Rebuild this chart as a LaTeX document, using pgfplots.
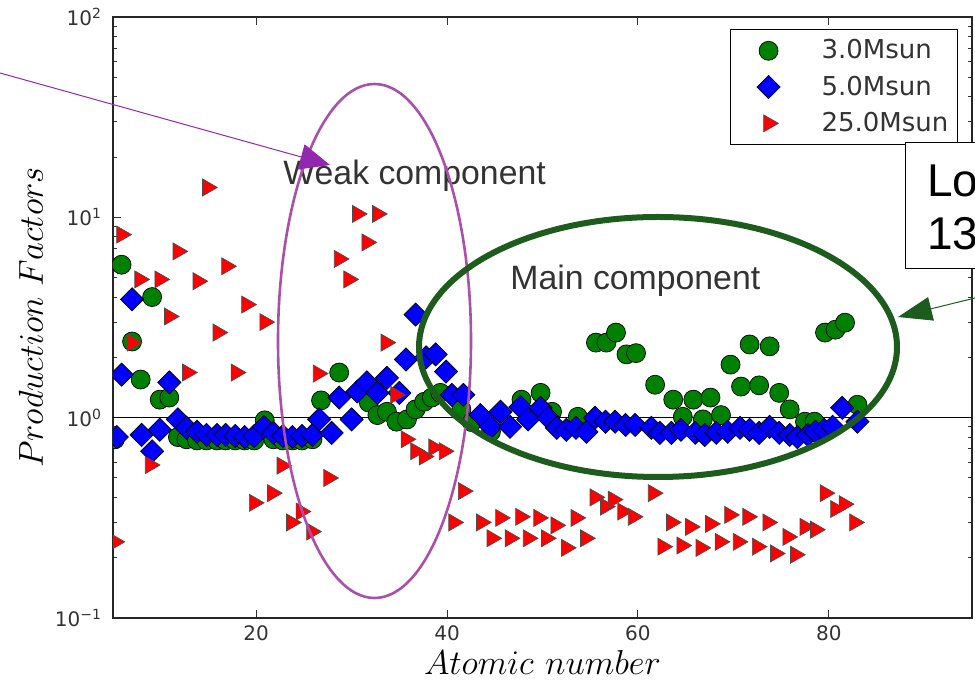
\documentclass[border=0pt]{standalone}
\usepackage{fontspec}
\usepackage{pgfplots}
\usepackage{pgfplotstable}
\pgfplotsset{compat=1.18}
\usetikzlibrary{arrows.meta}
\setmainfont{DejaVu Sans}
\newfontfamily\lib{Liberation Sans}
\newfontfamily\dejavu{DejaVu Sans}
\definecolor{mgreen}{RGB}{0,128,0}
\definecolor{mblue}{RGB}{0,0,255}
\definecolor{mred}{RGB}{255,0,0}
\definecolor{ellgreen}{RGB}{30,92,30}
\definecolor{ellpurple}{RGB}{170,80,170}
\definecolor{arrpurple}{RGB}{145,40,175}
\definecolor{txtgray}{RGB}{51,51,51}

\pgfplotstableread{
x y
5.2 0.78
5.9 5.8
7.0 2.4
7.9 1.55
9.1 4.0
9.9 1.23
10.9 1.26
11.8 0.80
12.7 0.78
13.8 0.77
14.8 0.77
15.9 0.77
16.8 0.77
17.8 0.77
18.8 0.77
19.8 0.77
20.9 0.97
21.8 0.78
22.8 0.77
23.8 0.77
24.8 0.77
25.9 0.78
26.8 1.22
28.7 1.68
31.8 1.19
32.7 1.03
33.7 1.07
34.7 0.955
35.8 0.98
36.7 1.1
37.6 1.2
38.4 1.26
39.3 1.33
41.5 1.1
42.6 0.95
44.6 0.85
47.8 1.23
49.8 1.33
51.0 1.07
53.7 1.01
55.6 2.37
56.7 2.37
57.7 2.66
58.8 2.07
59.8 2.1
61.8 1.46
63.7 1.23
64.7 1.01
65.8 1.23
66.8 0.98
67.6 1.26
68.7 1.03
69.7 1.84
70.8 1.43
71.7 2.32
72.7 1.45
73.8 2.27
74.8 1.33
75.9 1.1
77.5 0.955
78.5 0.955
79.6 2.66
80.7 2.75
81.7 2.98
83.0 1.16
}\greendata

\pgfplotstableread{
x y
5.4 0.80
5.9 1.64
7.0 3.9
8.0 0.82
9.1 0.68
9.9 0.87
10.9 1.5
11.8 0.98
12.7 0.89
13.8 0.85
14.8 0.82
15.9 0.82
16.8 0.82
17.8 0.81
18.8 0.80
19.8 0.81
20.8 0.90
21.8 0.84
22.8 0.81
23.8 0.80
24.8 0.81
25.9 0.82
26.6 0.98
27.9 0.84
28.7 1.26
30.0 0.98
30.6 1.35
31.6 1.5
32.7 1.33
33.7 1.58
35.0 1.33
35.7 1.95
36.7 3.27
37.8 2.0
38.8 2.07
39.9 1.7
40.5 1.3
41.7 1.3
43.5 1.03
44.6 0.9
45.6 1.07
46.6 0.9
47.7 1.13
48.5 0.98
49.8 1.12
50.6 1.0
51.5 0.89
52.5 0.87
53.5 0.89
54.6 0.85
55.5 1.0
56.6 0.955
57.6 0.955
58.7 0.92
59.7 0.92
61.4 0.89
62.3 0.84
63.5 0.84
64.5 0.87
66.0 0.84
67.0 0.82
68.2 0.84
69.4 0.85
70.7 0.89
71.7 0.87
72.7 0.84
73.8 0.90
74.8 0.84
75.9 0.82
76.7 0.80
77.8 0.82
78.6 0.85
79.5 0.87
80.4 0.90
81.4 1.12
83.0 0.955
}\bluedata

\pgfplotstableread{
x y
5.2 0.24
5.9 8.2
7.0 2.37
7.8 4.9
8.9 0.58
9.9 4.9
10.9 3.2
11.8 6.76
12.8 1.68
13.9 4.8
14.9 14.1
16.0 2.66
16.9 5.7
17.9 1.68
19.0 3.67
19.8 0.376
20.9 3.0
21.7 0.42
22.7 0.576
23.7 0.30
24.7 0.34
25.8 0.27
26.5 1.66
27.6 0.5
28.7 6.2
29.7 4.9
30.6 10.4
31.6 7.5
32.7 10.4
33.6 2.37
34.6 1.3
35.7 0.78
36.7 0.68
37.6 0.64
38.6 0.71
39.7 0.68
40.7 0.30
41.7 0.43
43.6 0.30
44.7 0.25
45.6 0.316
46.6 0.25
47.7 0.32
48.5 0.25
49.6 0.316
50.4 0.25
51.4 0.29
52.5 0.224
53.5 0.316
54.5 0.25
55.5 0.40
56.6 0.36
57.4 0.39
58.4 0.34
59.5 0.32
61.6 0.42
62.6 0.227
63.5 0.30
64.6 0.23
65.5 0.285
66.6 0.224
67.6 0.295
68.6 0.24
69.6 0.327
70.5 0.24
71.5 0.32
72.5 0.227
73.6 0.30
74.4 0.21
75.7 0.254
76.5 0.207
77.5 0.285
78.6 0.276
79.6 0.42
80.7 0.35
81.6 0.37
82.7 0.30
}\reddata

\begin{document}
\begin{tikzpicture}
\useasboundingbox (0pt,0pt) rectangle (487.5pt,340pt);
\begin{axis}[
  at={(56.5pt,31pt)}, anchor=south west,
  scale only axis, width=429.5pt, height=300.5pt,
  xmin=5, xmax=95, ymode=log, ymin=0.1, ymax=100,
  xtick={20,40,60,80}, xticklabels={20,40,60,80},
  ytick={0.1,1,10,100},
  yticklabels={{10\textsuperscript{−1}},{10\textsuperscript{0}},{10\textsuperscript{1}},{10\textsuperscript{2}}},
  ticklabel style={font=\dejavu\fontsize{10}{12}\selectfont, text=txtgray},
  xticklabel style={yshift=-0.5pt},
  yticklabel style={xshift=-2pt},
  major tick length=4pt, minor tick length=2.2pt,
  tick style={black!80, line width=0.5pt},
  axis line style={black!85, line width=0.9pt},
  clip marker paths=true,
  xlabel={$Atomic\ number$},
  ylabel={$Production\ Factors$},
  xlabel style={at={(axis description cs:0.5,-0.0932)}, anchor=base, font=\fontsize{18.8}{22}\selectfont},
  ylabel style={at={(axis description cs:-0.0815,0.5)}, anchor=base, font=\fontsize{16.5}{20}\selectfont},
  legend style={at={(axis description cs:0.9837,0.980)}, anchor=north east,
    draw=black, line width=0.6pt, fill=white,
    font=\dejavu\fontsize{13}{15}\selectfont, text=txtgray,
    row sep=3pt, inner xsep=2.5pt, inner ysep=3pt},
  legend cell align=left,
  legend image code/.code={\path[draw=none,fill=none] (0pt,0pt) -- (41pt,0pt);
    \draw[#1, only marks] plot coordinates {(16.5pt,0pt)};},
]
\addplot[black, line width=0.6pt, forget plot] coordinates {(5,1) (95,1)};
\addplot[only marks, mark=*, mark size=4.75pt, mark options={fill=mgreen, draw=black, line width=0.35pt}] table[x=x,y=y] {\greendata};
\addlegendentry{3.0Msun}
\addplot[only marks, mark=square*, mark size=4.1pt, mark options={rotate=45, fill=mblue, draw=black, line width=0.35pt}] table[x=x,y=y] {\bluedata};
\addlegendentry{5.0Msun}
\addplot[only marks, mark=triangle*, mark size=4.9pt, mark options={rotate=-90, fill=mred, draw=black!70, line width=0.35pt}] table[x=x,y=y] {\reddata};
\addlegendentry{25.0Msun}
\end{axis}
\begin{scope}[x=0.5pt,y=-0.5pt,shift={(0pt,340pt)}]
\node[anchor=base west, inner sep=0pt, font=\lib\fontsize{16.9}{19}\selectfont, text=txtgray] at (283,185) {Weak component};
\node[anchor=base west, inner sep=0pt, font=\lib\fontsize{16.9}{19}\selectfont, text=txtgray] at (510,290) {Main component};
\draw[ellpurple, line width=1.3pt] (374.5,341) ellipse [x radius=48.25pt, y radius=128.5pt];
\draw[arrpurple, line width=0.5pt, -{Triangle[length=15pt,width=13pt]}] (0,73) -- (330,165);
\draw[ellgreen, line width=3pt] (658,347) ellipse [x radius=119.5pt, y radius=65pt];
\draw[ellgreen, line width=0.5pt, -{Triangle[length=17pt,width=12pt]}] (1000,291.8) -- (898,317);
\draw[black, line width=0.5pt, fill=white] (905,143) rectangle (1010,269);
\node[anchor=base west, inner sep=0pt, font=\lib\fontsize{23}{26}\selectfont] at (927,197) {Lo};
\node[anchor=base west, inner sep=0pt, font=\lib\fontsize{23}{26}\selectfont] at (927,250) {13};
\end{scope}
\end{tikzpicture}
\end{document}
